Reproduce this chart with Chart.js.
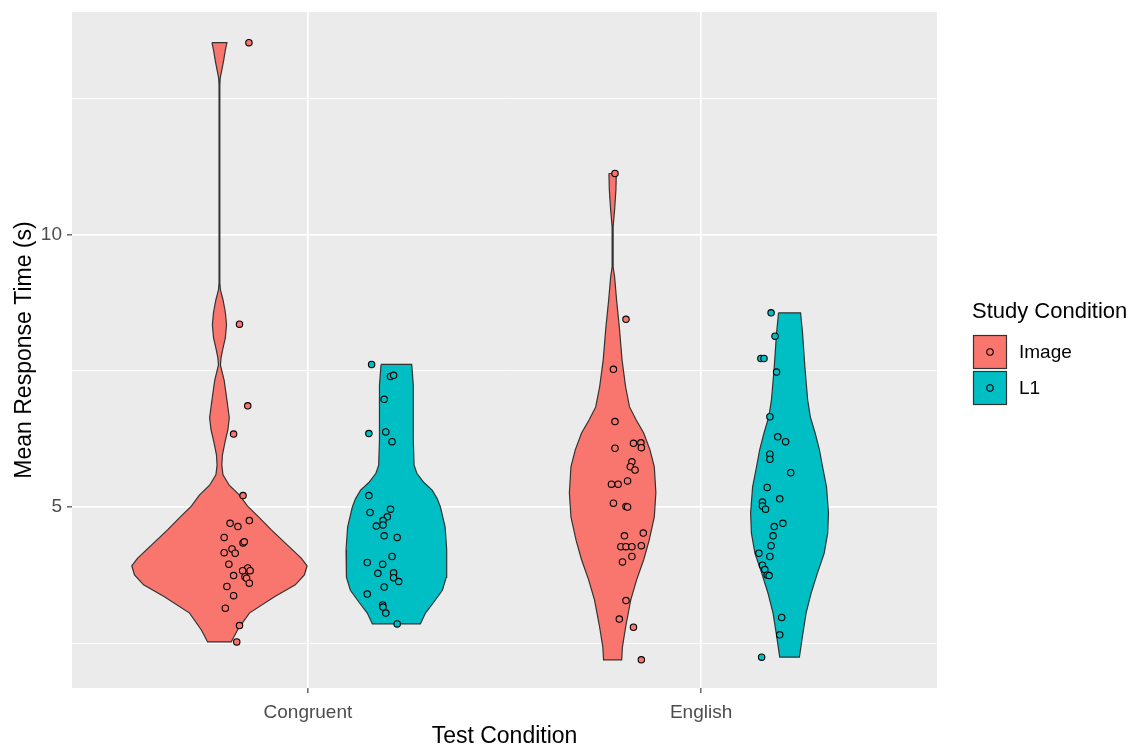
<!DOCTYPE html>
<html>
<head>
<meta charset="utf-8">
<script src="https://cdn.jsdelivr.net/npm/chart.js@4"></script>
<style>
  html, body { margin: 0; padding: 0; background: #fff; }
  #wrap { width: 1136px; height: 750px; }
</style>
</head>
<body>
<div id="wrap"><canvas id="violinChart" width="1136" height="750"></canvas></div>
<script>
const categories = ["Congruent", "English"];
const studyGroups = ["Image", "L1"];
const groupColors = ["#F8766D", "#00BFC4"];
const yTicks = [2.5, 5, 7.5, 10, 12.5];
const yMajor = [5, 10];

// violin outlines: response time levels and half widths (x units)
const congruentImageLevels = [13.535, 13.40, 13.22, 13.03, 12.89, 12.76, 9.12, 8.99, 8.81, 8.58, 8.35, 8.11, 7.92, 7.74, 7.61, 7.33, 7.02, 6.64, 6.42, 6.19, 5.96, 5.77, 5.59, 5.40, 5.22, 5.02, 4.80, 4.58, 4.30, 4.06, 3.92, 3.75, 3.57, 3.35, 3.05, 2.74, 2.52];
const congruentImageWidths = [0.019, 0.015, 0.011, 0.006, 0.002, 0.001, 0.001, 0.0025, 0.009, 0.015, 0.018, 0.015, 0.009, 0.004, 0.0025, 0.012, 0.018, 0.025, 0.0215, 0.014, 0.0076, 0.006, 0.009, 0.025, 0.051, 0.071, 0.102, 0.132, 0.173, 0.208, 0.223, 0.216, 0.193, 0.140, 0.076, 0.046, 0.030];

const congruentL1Levels = [7.62, 7.24, 6.23, 5.77, 5.62, 5.45, 5.31, 5.15, 5.00, 4.63, 4.21, 3.71, 3.47, 3.24, 3.05, 2.85];
const congruentL1Widths = [0.039, 0.043, 0.043, 0.045, 0.052, 0.070, 0.091, 0.104, 0.112, 0.124, 0.128, 0.127, 0.117, 0.094, 0.074, 0.061];

const englishImageLevels = [11.13, 10.83, 10.46, 10.15, 9.41, 9.23, 8.81, 8.31, 7.70, 7.21, 6.84, 6.60, 6.36, 6.05, 5.74, 5.26, 4.82, 4.39, 4.03, 3.66, 3.29, 2.79, 2.43, 2.19];
const englishImageWidths = [0.0094, 0.0084, 0.005, 0.0013, 0.0013, 0.005, 0.010, 0.017, 0.024, 0.033, 0.043, 0.060, 0.079, 0.095, 0.106, 0.110, 0.106, 0.093, 0.079, 0.061, 0.046, 0.033, 0.025, 0.023];

const englishL1Levels = [8.57, 8.20, 7.57, 6.97, 6.65, 6.36, 6.05, 5.74, 5.37, 4.89, 4.52, 4.15, 3.79, 3.42, 3.05, 2.68, 2.24];
const englishL1Widths = [0.028, 0.033, 0.039, 0.046, 0.053, 0.065, 0.076, 0.084, 0.094, 0.099, 0.097, 0.088, 0.071, 0.055, 0.042, 0.034, 0.025];

// jittered points
const congruentImageX = [0.850, 0.826, 0.847, 0.811, 0.835, 0.802, 0.822, 0.851, 0.787, 0.835, 0.838, 0.807, 0.787, 0.815, 0.799, 0.847, 0.834, 0.853, 0.811, 0.840, 0.844, 0.851, 0.794, 0.811, 0.790, 0.826, 0.819];
const congruentImageY = [13.535, 8.36, 6.86, 6.34, 5.21, 4.70, 4.64, 4.75, 4.44, 4.34, 4.36, 4.23, 4.16, 4.15, 3.95, 3.88, 3.83, 3.83, 3.74, 3.72, 3.69, 3.60, 3.54, 3.37, 3.14, 2.82, 2.52];

const congruentL1X = [1.162, 1.210, 1.218, 1.194, 1.155, 1.198, 1.214, 1.155, 1.158, 1.210, 1.202, 1.191, 1.174, 1.191, 1.194, 1.227, 1.214, 1.151, 1.190, 1.178, 1.218, 1.218, 1.231, 1.194, 1.151, 1.190, 1.191, 1.198, 1.227];
const congruentL1Y = [7.62, 7.40, 7.42, 6.98, 6.35, 6.38, 6.20, 5.21, 4.90, 4.96, 4.82, 4.75, 4.65, 4.67, 4.47, 4.44, 4.09, 3.98, 3.95, 3.78, 3.79, 3.70, 3.63, 3.53, 3.40, 3.20, 3.16, 3.05, 2.85];

const englishImageX = [1.781, 1.809, 1.777, 1.781, 1.828, 1.847, 1.848, 1.781, 1.824, 1.820, 1.832, 1.813, 1.772, 1.789, 1.777, 1.809, 1.813, 1.805, 1.853, 1.796, 1.809, 1.824, 1.848, 1.824, 1.800, 1.809, 1.792, 1.828, 1.848];
const englishImageY = [11.13, 8.45, 7.53, 6.57, 6.17, 6.18, 6.09, 6.08, 5.83, 5.74, 5.68, 5.48, 5.42, 5.42, 5.07, 5.01, 5.00, 4.47, 4.52, 4.27, 4.27, 4.27, 4.29, 4.09, 3.99, 3.28, 2.94, 2.79, 2.19];

const englishL1X = [2.178, 2.188, 2.152, 2.160, 2.192, 2.175, 2.195, 2.215, 2.175, 2.175, 2.228, 2.168, 2.200, 2.156, 2.156, 2.164, 2.208, 2.186, 2.183, 2.178, 2.147, 2.175, 2.156, 2.162, 2.168, 2.173, 2.205, 2.200, 2.154];
const englishL1Y = [8.57, 8.14, 7.73, 7.73, 7.48, 6.66, 6.29, 6.20, 5.97, 5.88, 5.63, 5.36, 5.15, 5.09, 5.02, 4.96, 4.70, 4.64, 4.47, 4.29, 4.15, 4.09, 3.93, 3.85, 3.75, 3.74, 2.97, 2.65, 2.24];

const FONT = "'Liberation Sans', Arial, sans-serif";
const DODGE = 0.225;

function violinOutline(center, levels, widths) {
    const left = levels.map((y, i) => ({x: center - widths[i], y}));
    const right = levels.map((y, i) => ({x: center + widths[i], y})).reverse();
    const pts = left.concat(right);
    pts.push(pts[0]);
    return pts;
}

function jitterPoints(xs, ys) {
    return xs.map((x, i) => ({x, y: ys[i]}));
}

const violins = [
    [1 - DODGE, congruentImageLevels, congruentImageWidths, 0],
    [1 + DODGE, congruentL1Levels, congruentL1Widths, 1],
    [2 - DODGE, englishImageLevels, englishImageWidths, 0],
    [2 + DODGE, englishL1Levels, englishL1Widths, 1]
];
const pointSets = [
    [congruentImageX, congruentImageY, 0],
    [congruentL1X, congruentL1Y, 1],
    [englishImageX, englishImageY, 0],
    [englishL1X, englishL1Y, 1]
];

const datasets = [];
violins.forEach(v => {
    datasets.push({
        label: studyGroups[v[3]],
        data: violinOutline(v[0], v[1], v[2]),
        borderColor: "#333333",
        borderWidth: 1.2,
        backgroundColor: groupColors[v[3]],
        fill: "shape",
        pointRadius: 0,
        tension: 0,
        order: 2
    });
});
pointSets.forEach(p => {
    datasets.push({
        label: studyGroups[p[2]],
        data: jitterPoints(p[0], p[1]),
        showLine: false,
        pointRadius: 3.2,
        pointBorderWidth: 1.1,
        pointBorderColor: "#000000",
        pointBackgroundColor: groupColors[p[2]],
        order: 1
    });
});

const panelBackground = {
    id: "panelBackground",
    beforeDraw(chart) {
        const {ctx, chartArea: a} = chart;
        ctx.save();
        ctx.fillStyle = "#EBEBEB";
        ctx.fillRect(a.left, a.top, a.right - a.left, a.bottom - a.top);
        ctx.restore();
    }
};

const sideLegend = {
    id: "sideLegend",
    afterDraw(chart) {
        const ctx = chart.ctx;
        ctx.save();
        ctx.fillStyle = "#000000";
        ctx.font = "22px " + FONT;
        ctx.textBaseline = "middle";
        ctx.fillText("Study Condition", 972, 312);
        studyGroups.forEach((g, i) => {
            const top = 335 + i * 36;
            ctx.fillStyle = groupColors[i];
            ctx.fillRect(973, top, 34, 34);
            ctx.strokeStyle = "#333333";
            ctx.lineWidth = 1.2;
            ctx.strokeRect(973.5, top + 0.5, 33, 33);
            ctx.beginPath();
            ctx.arc(990, top + 17, 3.2, 0, Math.PI * 2);
            ctx.fill();
            ctx.strokeStyle = "#000000";
            ctx.lineWidth = 1.1;
            ctx.stroke();
            ctx.fillStyle = "#000000";
            ctx.font = "19px " + FONT;
            ctx.fillText(g, 1019, top + 18);
        });
        ctx.restore();
    }
};

new Chart(document.getElementById("violinChart"), {
    type: "line",
    data: { datasets },
    plugins: [panelBackground, sideLegend],
    options: {
        responsive: false,
        animation: false,
        events: [],
        layout: { padding: { left: 0, right: 199, top: 12, bottom: 0 } },
        plugins: { legend: { display: false }, tooltip: { enabled: false } },
        scales: {
            x: {
                type: "linear",
                min: 0.4,
                max: 2.6,
                afterFit: s => { s.height = 62; s.paddingLeft = 0; s.paddingRight = 0; },
                afterBuildTicks: s => { s.ticks = [{value: 1}, {value: 2}]; },
                border: { display: false },
                grid: {
                    color: "#FFFFFF",
                    lineWidth: 1.7,
                    drawTicks: true,
                    tickLength: 5,
                    tickColor: "#333333",
                    tickWidth: 1.1
                },
                ticks: {
                    autoSkip: false,
                    maxRotation: 0,
                    padding: 8,
                    color: "#4D4D4D",
                    font: { family: FONT, size: 19 },
                    callback: v => categories[v - 1] || ""
                },
                title: {
                    display: true,
                    text: "Test Condition",
                    color: "#000000",
                    font: { family: FONT, size: 23 },
                    padding: { top: 0, bottom: 0 }
                }
            },
            y: {
                min: 1.673,
                max: 14.099,
                afterFit: s => { s.width = 72; s.paddingTop = 0; s.paddingBottom = 0; },
                afterBuildTicks: s => { s.ticks = yTicks.map(v => ({value: v})); },
                border: { display: false },
                grid: {
                    color: "#FFFFFF",
                    lineWidth: c => yMajor.includes(c.tick.value) ? 1.7 : 0.9,
                    drawTicks: true,
                    tickLength: 5,
                    tickColor: c => yMajor.includes(c.tick.value) ? "#333333" : "rgba(0,0,0,0)",
                    tickWidth: 1.1
                },
                ticks: {
                    autoSkip: false,
                    padding: 5,
                    color: "#4D4D4D",
                    font: { family: FONT, size: 19 },
                    callback: v => yMajor.includes(v) ? String(v) : ""
                },
                title: {
                    display: true,
                    text: "Mean Response Time (s)",
                    color: "#000000",
                    font: { family: FONT, size: 23 },
                    padding: { top: 11, bottom: 0 }
                }
            }
        }
    }
});
</script>
</body>
</html>
